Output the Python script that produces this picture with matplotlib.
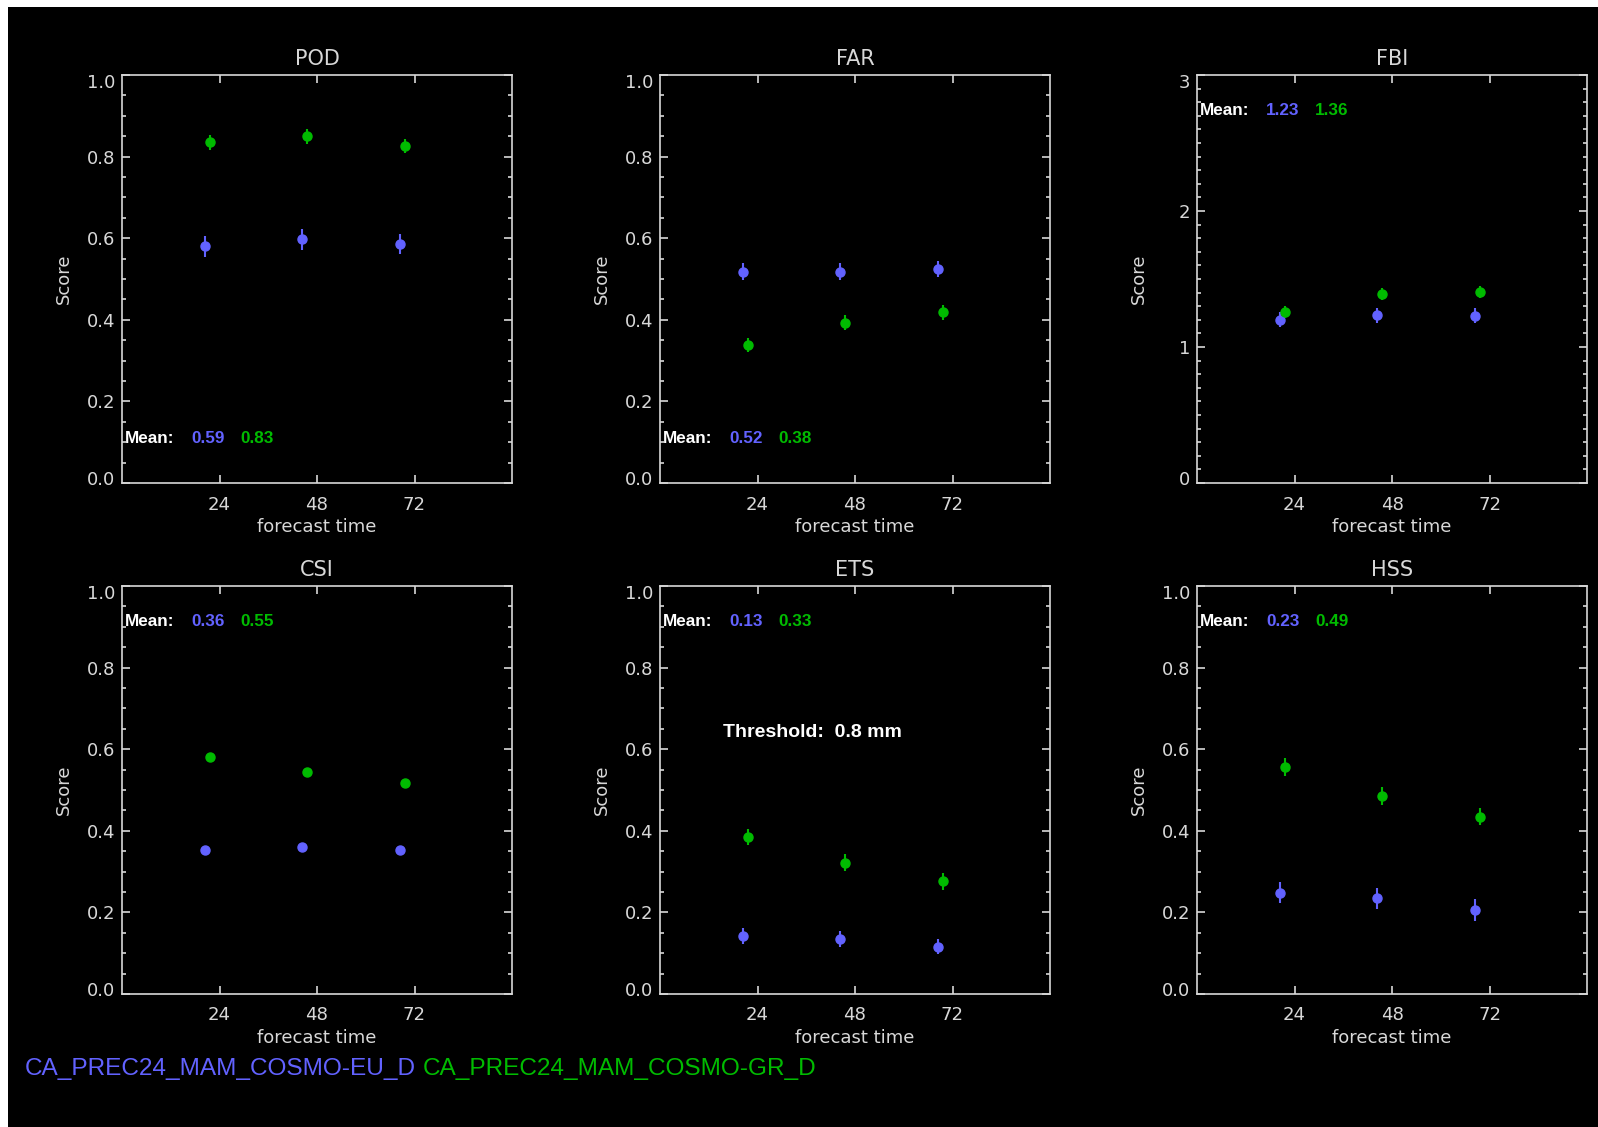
import matplotlib
matplotlib.use("Agg")
import matplotlib.pyplot as plt
from matplotlib.patches import Rectangle
from matplotlib.ticker import MultipleLocator, FormatStrFormatter
from matplotlib.transforms import ScaledTranslation

# ---------------------------------------------------------------------------
# data
# ---------------------------------------------------------------------------
lead_times = [24, 48, 72]
scores = ["POD", "FAR", "FBI", "CSI", "ETS", "HSS"]

eu_pod = [0.580, 0.597, 0.586]
gr_pod = [0.835, 0.850, 0.826]
eu_pod_err = [0.025, 0.025, 0.025]
gr_pod_err = [0.018, 0.018, 0.018]

eu_far = [0.518, 0.518, 0.525]
gr_far = [0.338, 0.393, 0.418]
eu_far_err = [0.020, 0.020, 0.020]
gr_far_err = [0.018, 0.018, 0.018]

eu_fbi = [1.20, 1.234, 1.229]
gr_fbi = [1.256, 1.390, 1.407]
eu_fbi_err = [0.055, 0.055, 0.055]
gr_fbi_err = [0.045, 0.045, 0.045]

eu_csi = [0.354, 0.361, 0.353]
gr_csi = [0.581, 0.543, 0.516]
eu_csi_err = [0.004, 0.004, 0.004]
gr_csi_err = [0.004, 0.004, 0.004]

eu_ets = [0.142, 0.135, 0.116]
gr_ets = [0.385, 0.322, 0.276]
eu_ets_err = [0.019, 0.019, 0.019]
gr_ets_err = [0.020, 0.020, 0.020]

eu_hss = [0.248, 0.235, 0.206]
gr_hss = [0.557, 0.486, 0.435]
eu_hss_err = [0.026, 0.026, 0.026]
gr_hss_err = [0.022, 0.022, 0.022]

mean_eu = ["0.59", "0.52", "1.23", "0.36", "0.13", "0.23"]
mean_gr = ["0.83", "0.38", "1.36", "0.55", "0.33", "0.49"]

score_ticks = [0.0, 0.2, 0.4, 0.6, 0.8, 1.0]
fbi_ticks = [0, 1, 2, 3]

model_names = ["CA_PREC24_MAM_COSMO-EU_D", "CA_PREC24_MAM_COSMO-GR_D"]
threshold_label = "Threshold:  0.8 mm"

# ---------------------------------------------------------------------------
# style
# ---------------------------------------------------------------------------
W, H = 1598, 1127
BLUE = "#6262ff"
GREEN = "#00bb00"
FG = "#d8d8d8"
EU_SHIFT, GR_SHIFT = -3.6, -2.4

series = {
    "POD": (eu_pod, gr_pod, eu_pod_err, gr_pod_err),
    "FAR": (eu_far, gr_far, eu_far_err, gr_far_err),
    "FBI": (eu_fbi, gr_fbi, eu_fbi_err, gr_fbi_err),
    "CSI": (eu_csi, gr_csi, eu_csi_err, gr_csi_err),
    "ETS": (eu_ets, gr_ets, eu_ets_err, gr_ets_err),
    "HSS": (eu_hss, gr_hss, eu_hss_err, gr_hss_err),
}
mean_at_bottom = {"POD", "FAR"}

fig = plt.figure(figsize=(W / 100, H / 100), dpi=100, facecolor="white")
fig.add_artist(Rectangle((8 / W, 0), 1, 1 - 7 / H, transform=fig.transFigure,
                         facecolor="black", edgecolor="none", zorder=-10))

col_left = [122, 660, 1197]
row_bottom = [483, 994]
ax_w, ax_h = 390, 408

for i, name in enumerate(scores):
    r, c = divmod(i, 3)
    rect = [col_left[c] / W, (H - row_bottom[r]) / H, ax_w / W, ax_h / H]
    ax = fig.add_axes(rect, facecolor="black")
    eu, gr, eu_err, gr_err = series[name]

    ax.errorbar([t + EU_SHIFT for t in lead_times], eu, yerr=eu_err, fmt="o",
                color=BLUE, ms=6.5, elinewidth=1.5, capsize=0)
    ax.errorbar([t + GR_SHIFT for t in lead_times], gr, yerr=gr_err, fmt="o",
                color=GREEN, ms=6.5, elinewidth=1.5, capsize=0)

    ax.set_xlim(0, 96)
    ax.set_xticks(lead_times)
    if name == "FBI":
        ax.set_ylim(0, 3)
        ax.set_yticks(fbi_ticks)
        ax.yaxis.set_minor_locator(MultipleLocator(0.1))
        ax.yaxis.set_major_formatter(FormatStrFormatter("%d"))
    else:
        ax.set_ylim(0, 1)
        ax.set_yticks(score_ticks)
        ax.yaxis.set_minor_locator(MultipleLocator(0.05))
        ax.yaxis.set_major_formatter(FormatStrFormatter("%.1f"))

    for sp in ax.spines.values():
        sp.set_color(FG)
        sp.set_linewidth(1.2)
    ax.tick_params(which="both", direction="in", top=True, right=True,
                   color=FG, labelcolor=FG, labelsize=13, width=1.2)
    ax.tick_params(which="major", length=6)
    ax.tick_params(which="minor", length=3.2)
    ax.tick_params(axis="x", pad=9)
    ax.tick_params(axis="y", pad=5)

    # end labels are nudged inside the frame, as in the original
    ylabels = ax.get_yticklabels()
    ylabels[0].set_transform(ylabels[0].get_transform()
                             + ScaledTranslation(0, 0.05, fig.dpi_scale_trans))
    ylabels[-1].set_transform(ylabels[-1].get_transform()
                              + ScaledTranslation(0, -0.06, fig.dpi_scale_trans))

    ax.set_title(name, color=FG, fontsize=15, pad=7.5)
    ax.set_xlabel("forecast time", color=FG, fontsize=13)
    ax.xaxis.set_label_coords(0.5, -0.086)
    ax.set_ylabel("Score", color=FG, fontsize=13)
    ax.yaxis.set_label_coords(-0.126, 0.5)

    ym = 0.11 if name in mean_at_bottom else 0.912
    kw = dict(transform=ax.transAxes, va="center", fontsize=12.3,
              family="Liberation Sans", fontweight="bold")
    ax.text(0.008, ym, "Mean:", color="white", **kw)
    ax.text(0.177, ym, mean_eu[i], color=BLUE, **kw)
    ax.text(0.303, ym, mean_gr[i], color=GREEN, **kw)

    if name == "ETS":
        ax.text(0.1615, 0.642, threshold_label, transform=ax.transAxes,
                va="center", color="white", fontsize=14,
                family="Liberation Sans", fontweight="bold")

fig.text(25 / W, 1 - 1069 / H, model_names[0], color=BLUE, fontsize=17.6,
         va="center", family="Liberation Sans")
fig.text(423 / W, 1 - 1069 / H, model_names[1], color=GREEN, fontsize=17.6,
         va="center", family="Liberation Sans")

fig.savefig("out.png", dpi=100, facecolor=fig.get_facecolor())
